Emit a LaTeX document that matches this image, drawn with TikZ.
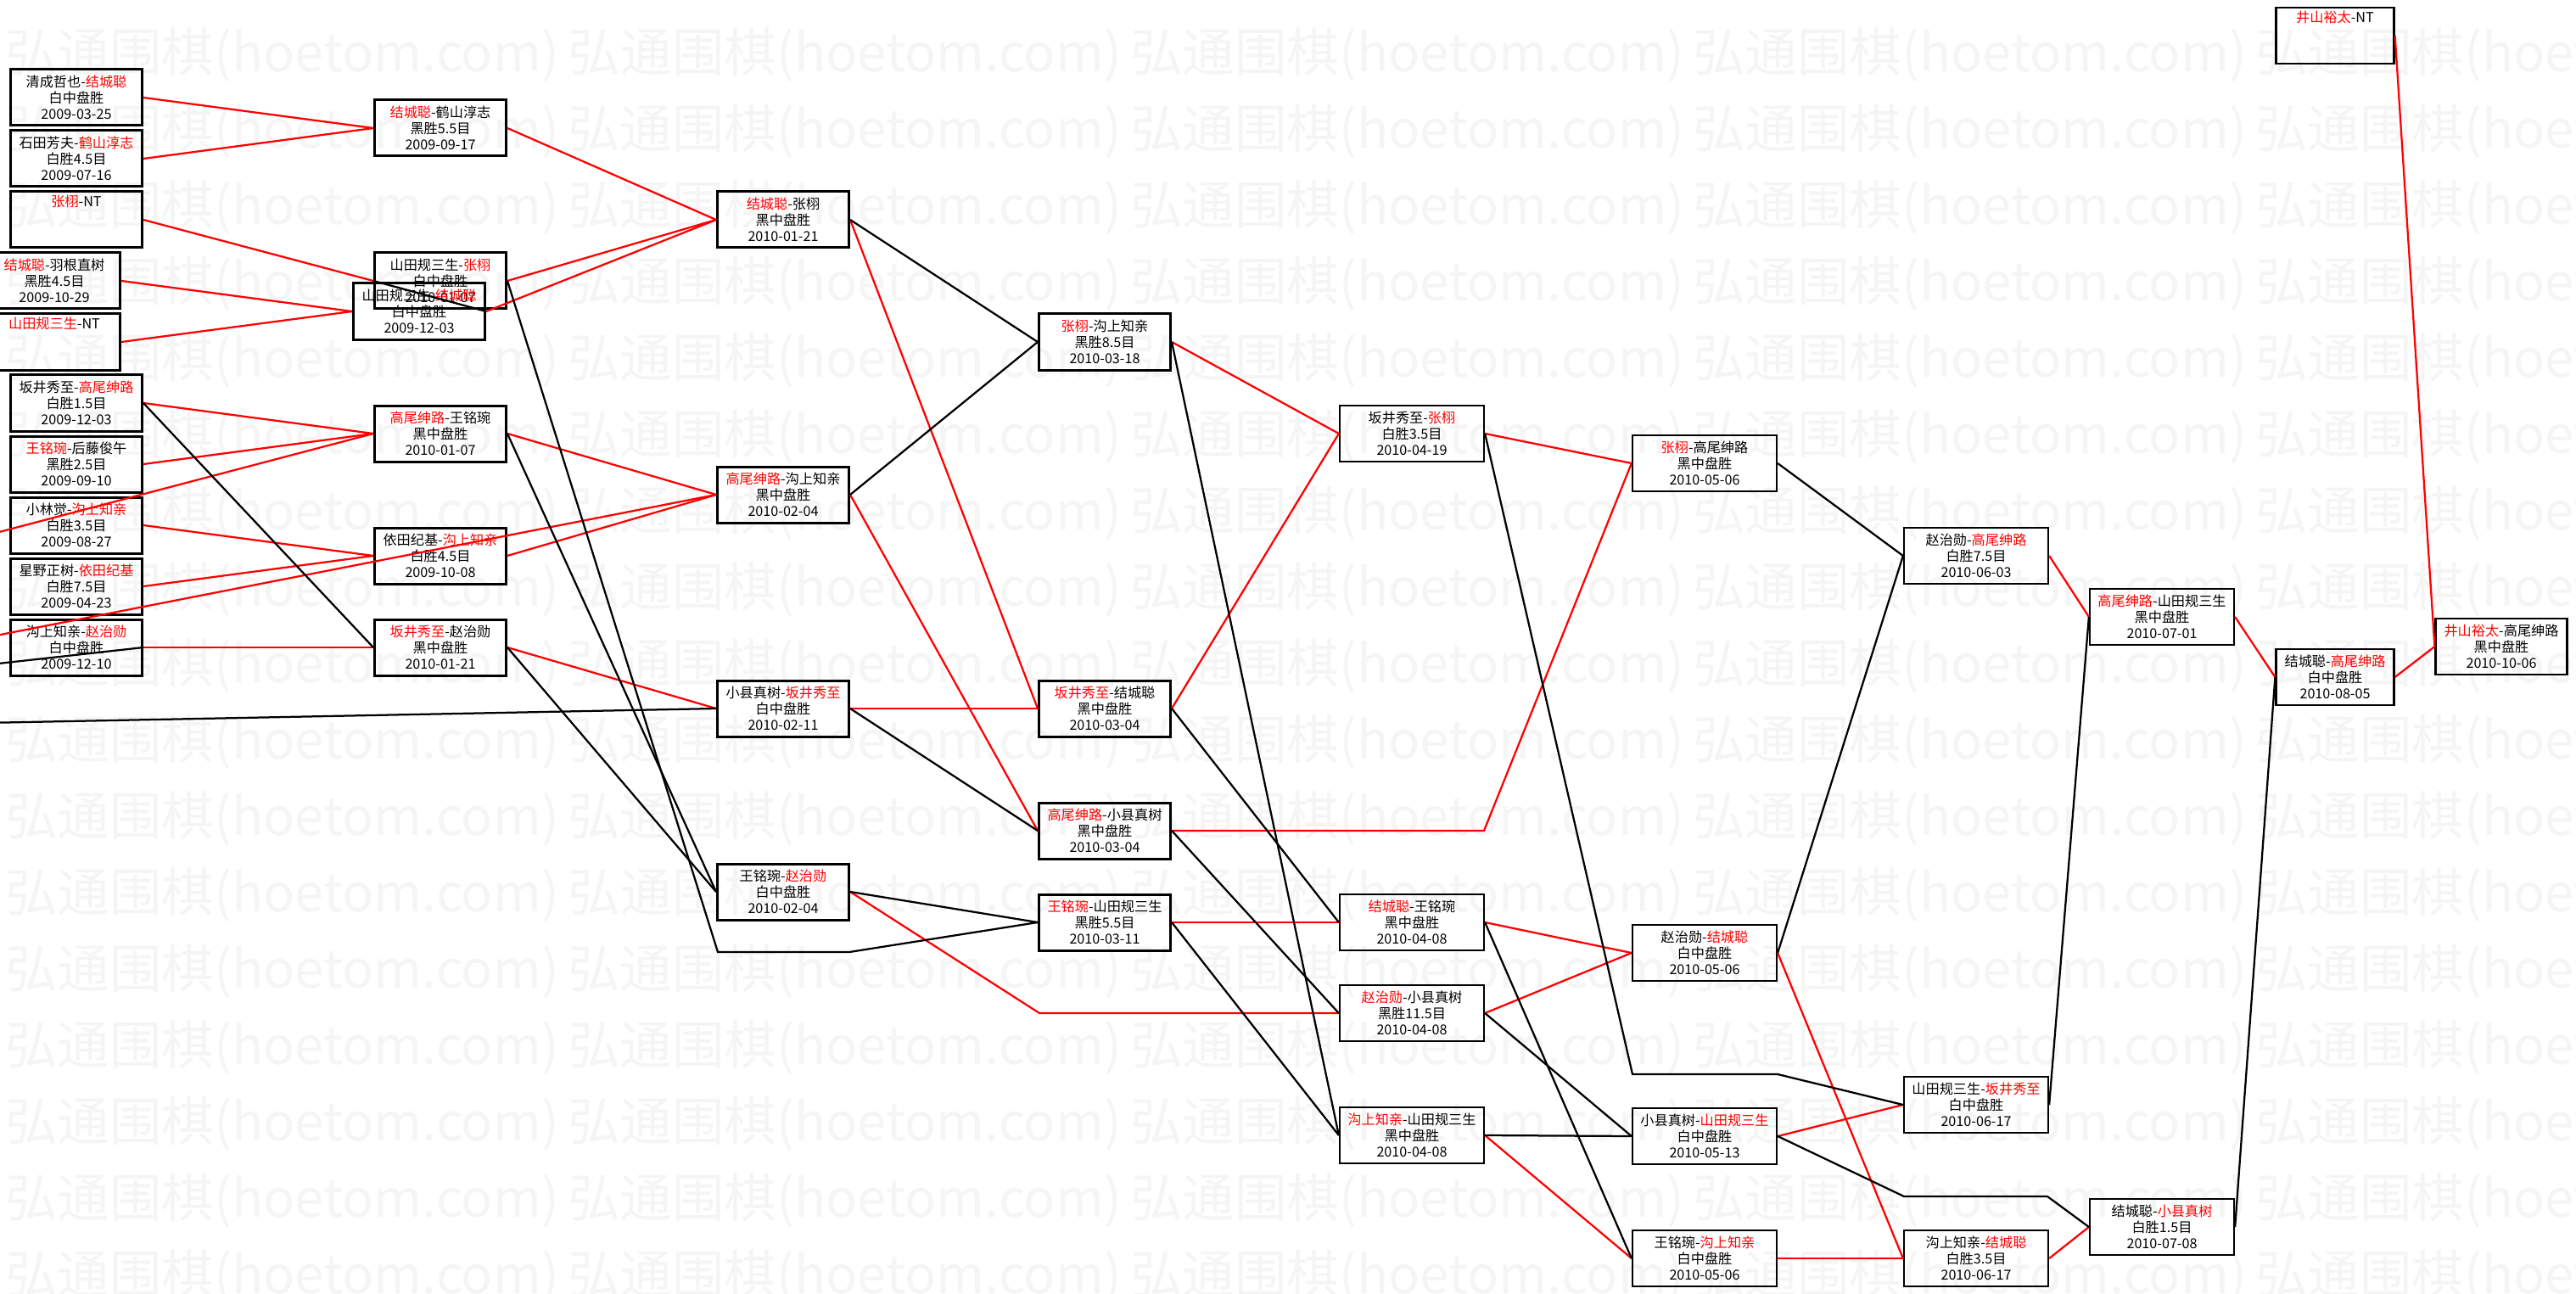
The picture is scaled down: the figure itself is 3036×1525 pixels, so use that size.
\documentclass[tikz,border=0pt]{standalone}
\usepackage{fontspec}
\newfontfamily\cjk{Noto Sans CJK SC}
\usepackage{tikz}
\newcommand{\winr}[1]{\textcolor{red}{#1}}

\begin{document}
\begin{tikzpicture}[
    x=0.2mm, y=-0.2mm,
    font=\cjk,
    % game boxes (heavier frame in the first four rounds)
    game/.style={rectangle, draw, line width=0.6mm, minimum width=31mm, minimum height=13.2mm, inner sep=0pt, align=center, font=\cjk\fontsize{9.2}{10.8}\selectfont},
    gamew/.style={game, line width=0.45mm, minimum width=34mm},
    gamei/.style={game, line width=0.45mm, minimum width=27.8mm},
    gamej/.style={game, line width=0.45mm},
    winline/.style={draw, red, line width=0.45mm},
    loseline/.style={draw, black, line width=0.45mm},
    wmtext/.style={text=black!4, font=\cjk\fontsize{35}{35}\selectfont, anchor=west, inner sep=0pt},
]
\path[use as bounding box, fill=white] (0,0) rectangle (3036,1525);

% watermark
\foreach \r in {0,...,16}{
  \foreach \c in {0,...,5}{
    \node[wmtext] (wm\r\c) at ({-657+663*\c},{65+90*\r}) {弘通围棋(hoetom.com)};
  }
}

% =========================================================
% first column
% =========================================================
\node[game] (a1)  at (90,115)  {清成哲也-\winr{结城聪}\\白中盘胜\\2009-03-25};
\node[game] (a2)  at (90,187)  {石田芳夫-\winr{鹤山淳志}\\白胜4.5目\\2009-07-16};
\node[game] (a3)  at (90,259)  {\winr{张栩}-NT\\\strut\\\strut};
\node[game] (a4)  at (64,331)  {\winr{结城聪}-羽根直树\\黑胜4.5目\\2009-10-29};
\node[game] (a5)  at (64,403)  {\winr{山田规三生}-NT\\\strut\\\strut};
\node[game] (a6)  at (90,475)  {坂井秀至-\winr{高尾绅路}\\白胜1.5目\\2009-12-03};
\node[game] (a7)  at (90,547)  {\winr{王铭琬}-后藤俊午\\黑胜2.5目\\2009-09-10};
\node[game] (a8)  at (90,619)  {小林觉-\winr{沟上知亲}\\白胜3.5目\\2009-08-27};
\node[game] (a9)  at (90,691)  {星野正树-\winr{依田纪基}\\白胜7.5目\\2009-04-23};
\node[game] (a10) at (90,763)  {沟上知亲-\winr{赵治勋}\\白中盘胜\\2009-12-10};

% entries from off the left edge
\coordinate (offA) at (-20,632);
\coordinate (offB) at (-20,752);
\coordinate (offC) at (-20,852);
\coordinate (offD) at (-20,784);

% =========================================================
% second column
% =========================================================
\node[game] (b1) at (519,151) {\winr{结城聪}-鹤山淳志\\黑胜5.5目\\2009-09-17};
\node[game] (b2) at (519,331) {山田规三生-\winr{张栩}\\白中盘胜\\2010-01-07};
\node[game] (b3) at (494,367) {山田规三生-\winr{结城聪}\\白中盘胜\\2009-12-03};
\node[game] (b4) at (519,511) {\winr{高尾绅路}-王铭琬\\黑中盘胜\\2010-01-07};
\node[game] (b5) at (519,655) {依田纪基-\winr{沟上知亲}\\白胜4.5目\\2009-10-08};
\node[game] (b6) at (519,763) {\winr{坂井秀至}-赵治勋\\黑中盘胜\\2010-01-21};

% =========================================================
% third column
% =========================================================
\node[game] (c1) at (923,259)  {\winr{结城聪}-张栩\\黑中盘胜\\2010-01-21};
\node[game] (c2) at (923,583)  {\winr{高尾绅路}-沟上知亲\\黑中盘胜\\2010-02-04};
\node[game] (c3) at (923,835)  {小县真树-\winr{坂井秀至}\\白中盘胜\\2010-02-11};
\node[game] (c4) at (923,1051) {王铭琬-\winr{赵治勋}\\白中盘胜\\2010-02-04};

% =========================================================
% fourth column
% =========================================================
\node[game] (d1) at (1302,403)  {\winr{张栩}-沟上知亲\\黑胜8.5目\\2010-03-18};
\node[game] (d2) at (1302,835)  {\winr{坂井秀至}-结城聪\\黑中盘胜\\2010-03-04};
\node[game] (d3) at (1302,979)  {\winr{高尾绅路}-小县真树\\黑中盘胜\\2010-03-04};
\node[game] (d4) at (1302,1087) {\winr{王铭琬}-山田规三生\\黑胜5.5目\\2010-03-11};

% =========================================================
% later rounds
% =========================================================
\node[gamew] (e1) at (1664,511)  {坂井秀至-\winr{张栩}\\白胜3.5目\\2010-04-19};
\node[gamew] (e2) at (1664,1087) {\winr{结城聪}-王铭琬\\黑中盘胜\\2010-04-08};
\node[gamew] (e3) at (1664,1194) {\winr{赵治勋}-小县真树\\黑胜11.5目\\2010-04-08};
\node[gamew] (e4) at (1664,1338) {\winr{沟上知亲}-山田规三生\\黑中盘胜\\2010-04-08};

\node[gamew] (f1) at (2009,546)  {\winr{张栩}-高尾绅路\\黑中盘胜\\2010-05-06};
\node[gamew] (f2) at (2009,1123) {赵治勋-\winr{结城聪}\\白中盘胜\\2010-05-06};
\node[gamew] (f3) at (2009,1339) {小县真树-\winr{山田规三生}\\白中盘胜\\2010-05-13};
\node[gamew] (f4) at (2009,1483) {王铭琬-\winr{沟上知亲}\\白中盘胜\\2010-05-06};

\node[gamew] (g1) at (2329,655)  {赵治勋-\winr{高尾绅路}\\白胜7.5目\\2010-06-03};
\node[gamew] (g2) at (2329,1302) {山田规三生-\winr{坂井秀至}\\白中盘胜\\2010-06-17};
\node[gamew] (g3) at (2329,1483) {沟上知亲-\winr{结城聪}\\白胜3.5目\\2010-06-17};

\node[gamew] (h1) at (2548,727)  {\winr{高尾绅路}-山田规三生\\黑中盘胜\\2010-07-01};
\node[gamew] (h2) at (2548,1446) {结城聪-\winr{小县真树}\\白胜1.5目\\2010-07-08};

\node[gamei] (i0) at (2752,42)  {\winr{井山裕太}-NT\\\strut\\\strut};
\node[gamei] (i1) at (2752,798) {结城聪-\winr{高尾绅路}\\白中盘胜\\2010-08-05};

\node[gamej] (j1) at (2948,762) {\winr{井山裕太}-高尾绅路\\黑中盘胜\\2010-10-06};

% bend points
\coordinate (k1a) at (846,1122);
\coordinate (k1b) at (1001,1122);
\coordinate (k2)  at (1225,1194);
\coordinate (k3)  at (1749,979);
\coordinate (k4a) at (1924,1266);
\coordinate (k4b) at (2095,1266);
\coordinate (k5a) at (2244,1410);
\coordinate (k5b) at (2413,1410);

% winners (red)
\draw[winline] (a1.east) -- (b1.west);
\draw[winline] (a2.east) -- (b1.west);
\draw[winline] (a3.east) -- (b2.west);
\draw[winline] (a4.east) -- (b3.west);
\draw[winline] (a5.east) -- (b3.west);
\draw[winline] (a6.east) -- (b4.west);
\draw[winline] (a7.east) -- (b4.west);
\draw[winline] (offA) -- (b4.west);
\draw[winline] (a8.east) -- (b5.west);
\draw[winline] (a9.east) -- (b5.west);
\draw[winline] (a10.east) -- (b6.west);
\draw[winline] (offB) -- (c2.west);

\draw[winline] (b1.east) -- (c1.west);
\draw[winline] (b2.east) -- (c1.west);
\draw[winline] (b3.east) -- (c1.west);
\draw[winline] (b4.east) -- (c2.west);
\draw[winline] (b5.east) -- (c2.west);
\draw[winline] (b6.east) -- (c3.west);

\draw[winline] (c1.east) -- (d2.west);
\draw[winline] (c2.east) -- (d3.west);
\draw[winline] (c3.east) -- (d2.west);
\draw[winline] (c4.east) -- (k2) -- (e3.west);

\draw[winline] (d1.east) -- (e1.west);
\draw[winline] (d2.east) -- (e1.west);
\draw[winline] (d3.east) -- (k3) -- (f1.west);
\draw[winline] (d4.east) -- (e2.west);

\draw[winline] (e1.east) -- (f1.west);
\draw[winline] (e2.east) -- (f2.west);
\draw[winline] (e3.east) -- (f2.west);
\draw[winline] (e4.east) -- (f4.west);

\draw[winline] (f2.east) -- (g3.west);
\draw[winline] (f3.east) -- (g2.west);
\draw[winline] (f4.east) -- (g3.west);

\draw[winline] (g1.east) -- (h1.west);
\draw[winline] (g3.east) -- (h2.west);
\draw[winline] (h1.east) -- (i1.west);
\draw[winline] (i1.east) -- (j1.west);
\draw[winline] (i0.east) -- (j1.west);

% losers (black)
\draw[loseline] (offD) -- (a10.east);
\draw[loseline] (offC) -- (c3.west);
\draw[loseline] (b3.east) -- (b2.west);
\draw[loseline] (a6.east) -- (b6.west);
\draw[loseline] (b2.east) -- (k1a) -- (k1b) -- (d4.west);
\draw[loseline] (b4.east) -- (c4.west);
\draw[loseline] (b6.east) -- (c4.west);

\draw[loseline] (c1.east) -- (d1.west);
\draw[loseline] (c2.east) -- (d1.west);
\draw[loseline] (c3.east) -- (d3.west);
\draw[loseline] (c4.east) -- (d4.west);

\draw[loseline] (d1.east) -- (e4.west);
\draw[loseline] (d2.east) -- (e2.west);
\draw[loseline] (d3.east) -- (e3.west);
\draw[loseline] (d4.east) -- (e4.west);

\draw[loseline] (e1.east) -- (k4a) -- (k4b) -- (g2.west);
\draw[loseline] (e2.east) -- (f4.west);
\draw[loseline] (e3.east) -- (f3.west);
\draw[loseline] (e4.east) -- (f3.west);

\draw[loseline] (f1.east) -- (g1.west);
\draw[loseline] (f2.east) -- (g1.west);
\draw[loseline] (f3.east) -- (k5a) -- (k5b) -- (h2.west);
\draw[loseline] (g2.east) -- (h1.west);
\draw[loseline] (h2.east) -- (i1.west);

\end{tikzpicture}
\end{document}
